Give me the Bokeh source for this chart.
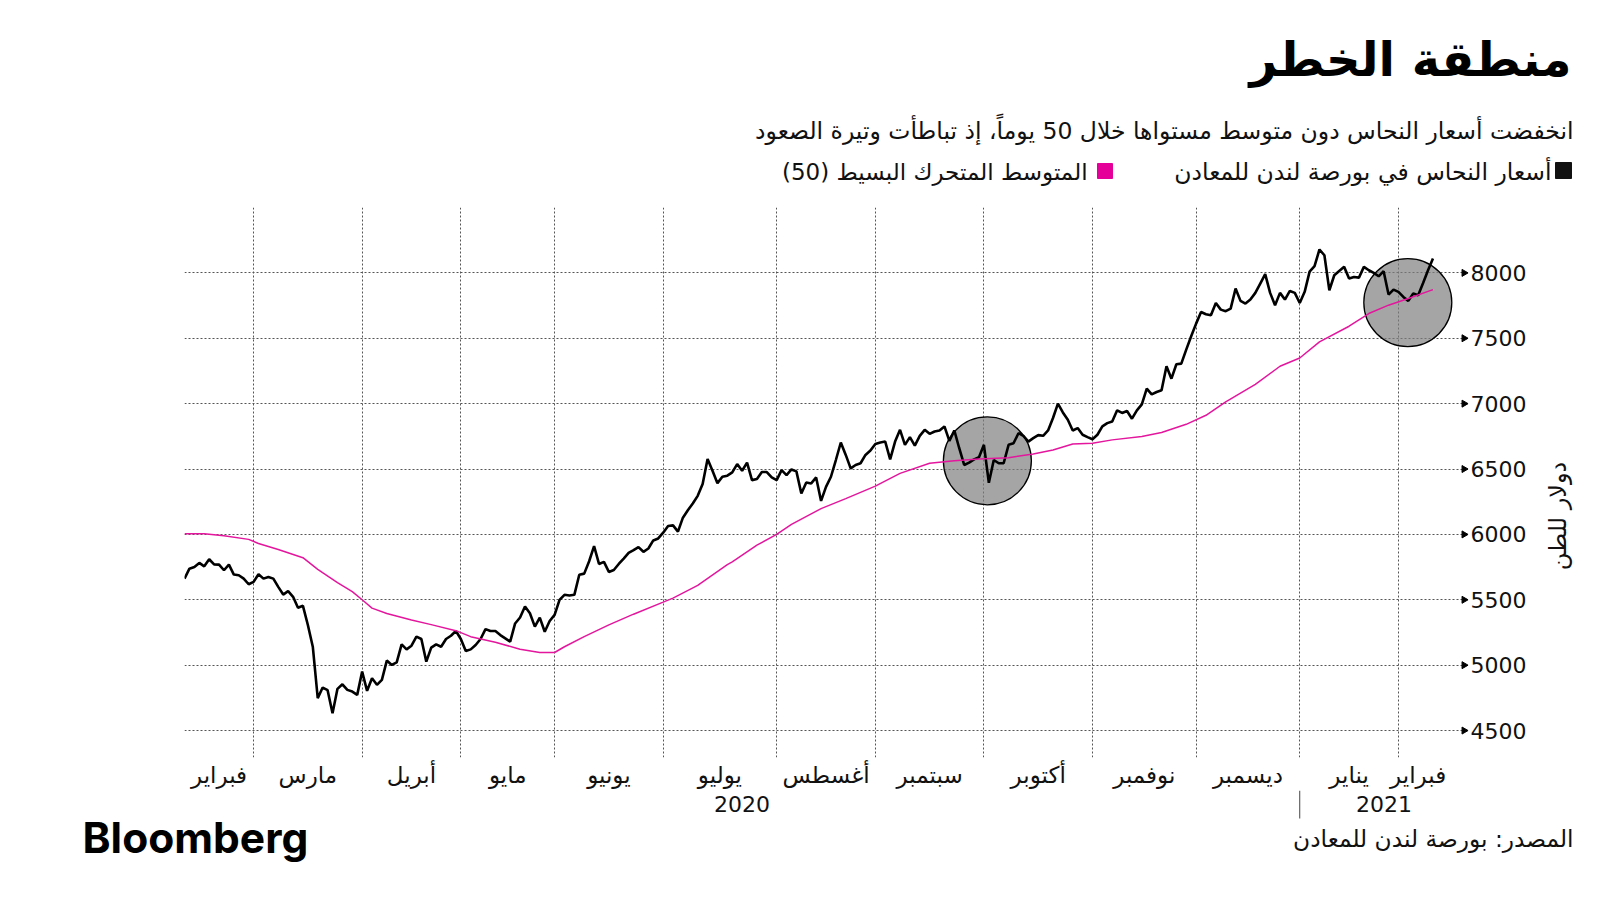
import numpy as np
from bokeh.plotting import figure
from bokeh.layouts import column, row
from bokeh.models import Range1d, LinearAxis, FixedTicker, Grid
from bokeh.core.properties import value
from bokeh.embed import file_html
from bokeh.resources import INLINE

# ---------------- data ----------------
price = [
    5662, 5738, 5751, 5782, 5756, 5810, 5771, 5769, 5726, 5769,
    5693, 5688, 5662, 5619, 5637, 5695, 5662, 5675, 5662, 5599,
    5540, 5566, 5523, 5439, 5454, 5307, 5141, 4748, 4829, 4809,
    4633, 4819, 4854, 4811, 4798, 4773, 4951, 4804, 4900, 4850,
    4888, 5035, 5002, 5022, 5159, 5121, 5149, 5218, 5200, 5027,
    5134, 5159, 5141, 5200, 5225, 5261, 5200, 5108, 5121, 5154,
    5200, 5276, 5261, 5261, 5230, 5205, 5180, 5319, 5365,
    5449, 5397, 5295, 5364, 5256, 5338, 5385, 5500, 5538, 5533,
    5538, 5692, 5700, 5795, 5910, 5774, 5790, 5713, 5728, 5774,
    5815, 5859, 5880, 5903, 5867, 5892, 5954, 5969, 6013, 6064,
    6069, 6021, 6128, 6185, 6236, 6295, 6385, 6577, 6487, 6392,
    6441, 6449, 6474, 6538, 6487, 6549, 6415, 6423, 6477, 6477,
    6436, 6415, 6492, 6454, 6497, 6482, 6313, 6397, 6390, 6436,
    6256, 6364, 6441, 6569, 6703,
    6608, 6505, 6531, 6544, 6608, 6641, 6692, 6703, 6710, 6574,
    6710, 6800, 6685, 6744, 6679, 6754, 6800, 6769, 6787, 6795,
    6826, 6715, 6795, 6659, 6531, 6549, 6574, 6590, 6685, 6395,
    6569, 6544, 6544, 6685, 6697, 6774, 6754, 6710, 6736, 6759,
    6754, 6795, 6890, 7000, 6933, 6877, 6795, 6813, 6762, 6744,
    6728, 6762, 6826, 6851, 6864, 6949,
    6929, 6944, 6885, 6949, 6995, 7115, 7071, 7089, 7102, 7286,
    7191, 7301, 7306, 7413, 7515, 7612, 7701, 7684, 7676, 7770,
    7719, 7707, 7727, 7880, 7786, 7765, 7796, 7847, 7918, 7990,
    7847, 7753, 7847, 7796, 7862, 7847, 7770, 7855, 8010, 8051,
    8179, 8135, 7867, 7982, 8015, 8046, 7957, 7969, 7964, 8046,
    8020, 8000, 7974, 8013, 7834, 7872, 7855, 7816, 7786, 7842,
    7829, 7923, 8020, 8110,
]

sma_idx = [0, 4, 8, 13, 15, 19, 24, 27, 31, 34, 36, 38, 41, 46, 50, 55, 58, 63,
           68, 72, 75, 77, 81, 86, 91, 97, 99, 104, 110, 111, 116, 120, 123, 129,
           134, 140, 145, 151, 156, 161, 167, 172, 176, 180, 184, 188, 194, 198,
           203, 207, 211, 217, 222, 226, 230, 236, 240, 244, 248, 253]
sma_val = [6005, 6005, 5990, 5962, 5931, 5885, 5822, 5733, 5631, 5563, 5500, 5436,
           5395, 5345, 5310, 5264, 5218, 5175, 5122, 5097, 5097, 5141, 5218, 5308,
           5390, 5482, 5513, 5610, 5769, 5790, 5918, 6000, 6077, 6197, 6274, 6369,
           6467, 6544, 6564, 6577, 6587, 6615, 6646, 6692, 6697, 6723, 6749, 6780,
           6842, 6911, 7013, 7148, 7286, 7349, 7472, 7592, 7689, 7753, 7804, 7872]

# trading-day index where each month starts (Mar 2020 ... Feb 2021)
month_starts = [14, 36, 56, 75, 97, 120, 140, 162, 184, 205, 226, 246]
month_labels = ["فبراير", "مارس", "أبريل", "مايو", "يونيو", "يوليو", "أغسطس",
                "سبتمبر", "أكتوبر", "نوفمبر", "ديسمبر", "يناير", "فبراير"]
year_labels = ["2020", "2021"]
year_start_idx = 226
y_ticks = [4500, 5000, 5500, 6000, 6500, 7000, 7500, 8000]
y_top = 8500
y_bottom = 4294

circle_idx = [162.7, 247.9]
circle_val = [6563, 7773]

title = "منطقة الخطر"
subtitle = "انخفضت أسعار النحاس دون متوسط مستواها خلال 50 يوماً، إذ تباطأت وتيرة الصعود"
legend_price = "أسعار النحاس في بورصة لندن للمعادن"
legend_sma = "المتوسط المتحرك البسيط (50)\u200f"
y_title = "دولار للطن"
source = "المصدر: بورصة لندن للمعادن"
logo = "Bloomberg"

PRICE_COLOR = "#000000"
SMA_COLOR = "#e3169d"
SMA_KEY_COLOR = "#e5009a"

# ---------------- layout geometry (page pixels) ----------------
W, H = 1600, 900
HEAD_TOP, MAIN_BOTTOM = 207, 790     # header: 0..207, chart strip: 207..790, footer: 790..900
HEAD_H = HEAD_TOP
MID_H = MAIN_BOTTOM - HEAD_TOP
FOOT_H = H - MAIN_BOTTOM
MAIN_W = 1540
FL, FR = 184, 1468    # frame left/right (page px)
FRAME_H = 550
X_END = 260.2
PX = (FR - FL) / X_END   # pixels per trading day
n = len(price)
AR = "DejaVu Sans"


def blank(width, height, x_range=None):
    f = figure(width=width, height=height,
               x_range=x_range if x_range is not None else Range1d(0, width),
               y_range=Range1d(height, 0),
               output_backend="svg", toolbar_location=None,
               x_axis_location=None, y_axis_location=None,
               min_border_left=0, min_border_right=0, min_border_top=0, min_border_bottom=0)
    f.outline_line_color = None
    f.background_fill_color = "white"
    f.border_fill_color = "white"
    for g in list(f.grid):
        g.visible = False
    return f


def txt(f, x, y, s, size, align="right", baseline="alphabetic", font=AR, style="normal",
        color="#111111", angle=0.0):
    xs = x if isinstance(x, list) else [x]
    ss = s if isinstance(s, list) else [s]
    f.text(x=xs, y=[y] * len(xs), text=ss, text_align=align, text_baseline=baseline,
           text_font=value(font), text_font_size=value(size), text_font_style=style,
           text_color=color, angle=angle)


# ---------------- header ----------------
head = blank(W, HEAD_H)
txt(head, 1571, 58, title, "48px", style="bold", color="#000000")
txt(head, 1573, 130, subtitle, "23.5px")
txt(head, 1551, 171, legend_price, "23.5px")
txt(head, 1087, 171, legend_sma, "23px")
head.scatter(x=[1563, 1104.5], y=[170, 170.5], marker="square", size=[16, 15],
             color=["#111111", SMA_KEY_COLOR])

# ---------------- main chart ----------------
p = figure(width=MAIN_W, height=MID_H, x_range=Range1d(0, X_END), y_range=Range1d(y_bottom, y_top),
           output_backend="svg", toolbar_location=None,
           x_axis_location=None, y_axis_location=None,
           min_border_left=FL, min_border_right=MAIN_W - FR,
           min_border_top=0, min_border_bottom=MID_H - FRAME_H)
p.outline_line_color = None
p.background_fill_color = "white"
p.border_fill_color = "white"
for g in list(p.grid):
    g.visible = False

grid_kw = dict(grid_line_color="#555555", grid_line_dash="2 2", grid_line_width=1)
p.add_layout(Grid(dimension=0, ticker=FixedTicker(ticks=month_starts), **grid_kw))
p.add_layout(Grid(dimension=1, ticker=FixedTicker(ticks=y_ticks + [y_top]), **grid_kw))

bounds = [0] + month_starts + [n]
mids = [(a + b) / 2 for a, b in zip(bounds[:-1], bounds[1:])]
month_axis = LinearAxis(ticker=FixedTicker(ticks=mids),
                        major_label_overrides={m: l for m, l in zip(mids, month_labels)},
                        axis_line_color=None, major_tick_line_color=None,
                        minor_tick_line_color=None, major_label_standoff=-2,
                        major_label_text_font=AR, major_label_text_font_size="23px",
                        major_label_text_color="#111111")
p.add_layout(month_axis, "below")

y_axis = LinearAxis(ticker=FixedTicker(ticks=y_ticks), axis_line_color=None,
                    major_tick_line_color=None, minor_tick_line_color=None,
                    major_label_standoff=-4, major_label_text_font=AR,
                    major_label_text_font_size="22px", major_label_text_color="#111111")
p.add_layout(y_axis, "right")

p.scatter(x=[X_END - 0.9] * len(y_ticks), y=y_ticks, marker="triangle", size=7,
          angle=-np.pi / 2, color="black")

p.scatter(x=circle_idx, y=circle_val, marker="circle", size=88, fill_color="#7f7f7f",
          fill_alpha=0.7, line_color="black", line_width=1.3)

p.line(x=list(range(n)), y=price, line_color=PRICE_COLOR, line_width=2.6)
p.line(x=sma_idx, y=sma_val, line_color=SMA_COLOR, line_width=1.5)

# ---------------- right strip with the unit title ----------------
side = blank(W - MAIN_W, MID_H)
txt(side, 1557 - MAIN_W, 534 - HEAD_TOP, y_title, "24px", align="center", baseline="middle",
    angle=np.pi / 2)

# ---------------- footer (same trading-day scale as the chart) ----------------
foot = blank(W, FOOT_H, x_range=Range1d(-FL / PX, (W - FL) / PX))
year_mids = [year_start_idx / 2, (year_start_idx + X_END) / 2]
txt(foot, year_mids, 803 - MAIN_BOTTOM, year_labels, "22px", align="center", baseline="middle")
foot.segment(x0=[year_start_idx], y0=[0], x1=[year_start_idx], y1=[818 - MAIN_BOTTOM],
             line_color="#444444", line_width=1)
txt(foot, (82 - FL) / PX, 837 - MAIN_BOTTOM, logo, "42.5px", align="left", font="Inter",
    style="bold", color="#000000")
txt(foot, (1573 - FL) / PX, 838 - MAIN_BOTTOM, source, "23.3px")

layout = column(head, row(p, side), foot)
open("out.html", "w").write(file_html(layout, INLINE))
